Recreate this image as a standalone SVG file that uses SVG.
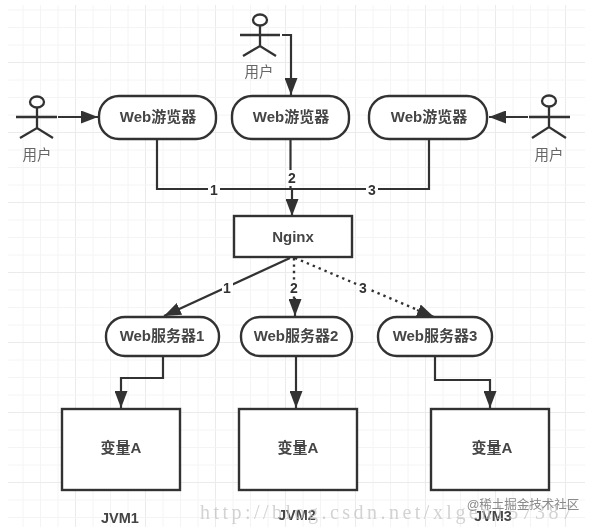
<svg xmlns="http://www.w3.org/2000/svg" width="595" height="527" viewBox="0 0 595 527">
<style>
text{font-family:"Liberation Sans","Noto Sans CJK SC",sans-serif;text-anchor:middle}
.g{stroke:#f4f4f4;stroke-width:1;fill:none}
.G{stroke:#ebebeb;stroke-width:1;fill:none}
.n{fill:#fff;stroke:#333;stroke-width:2.4}
.c{fill:none;stroke:#333;stroke-width:2.2}
.d{fill:none;stroke:#333;stroke-width:2.4;stroke-dasharray:2.4 4}
.a{fill:none;stroke:#333;stroke-width:2.3}
.t{font-size:15px;font-weight:bold;fill:#444}
.j{font-size:14.5px;font-weight:bold;fill:#444}
.u{font-size:14.5px;fill:#666}
.l{font-size:14px;font-weight:bold;fill:#333}
.bg{fill:#fff;stroke:none}
</style>
<defs>
<marker id="ah" markerUnits="userSpaceOnUse" markerWidth="18" markerHeight="13" refX="17" refY="6.5" orient="auto"><path d="M0,0L17,6.5L0,13Z" fill="#333"/></marker>
<filter id="b" x="0" y="0" width="100%" height="100%"><feGaussianBlur stdDeviation="0.45"/></filter>
</defs>
<rect width="595" height="527" fill="#fff"/>
<g filter="url(#b)">
<g id="grid">
<path class="g" d="M23 5V527M40.500 5V527M58 5V527M93 5V527M110.500 5V527M128 5V527M163 5V527M180.500 5V527M198 5V527M233 5V527M250.500 5V527M268 5V527M303 5V527M320.500 5V527M338 5V527M373 5V527M390.500 5V527M408 5V527M443 5V527M460.500 5V527M478 5V527M513 5V527M530.500 5V527M548 5V527"/>
<path class="G" d="M75.500 5V527M145.500 5V527M215.500 5V527M285.500 5V527M355.500 5V527M425.500 5V527M495.500 5V527M565.500 5V527"/>
<path class="g" d="M8 10H585M8 27.500H585M8 45H585M8 80H585M8 97.500H585M8 115H585M8 150H585M8 167.500H585M8 185H585M8 220H585M8 237.500H585M8 255H585M8 290H585M8 307.500H585M8 325H585M8 360H585M8 377.500H585M8 395H585M8 430H585M8 447.500H585M8 465H585M8 500H585M8 517.500H585"/>
<path class="G" d="M8 62.500H585M8 132.500H585M8 202.500H585M8 272.500H585M8 342.500H585M8 412.500H585M8 482.500H585"/>
</g>
<g id="connectors">
<path class="c" d="M58 117H98" marker-end="url(#ah)"/>
<path class="c" d="M282 35H291V95" marker-end="url(#ah)"/>
<path class="c" d="M528 117H489" marker-end="url(#ah)"/>
<path class="c" d="M157 139V189H292V216" marker-end="url(#ah)"/>
<path class="c" d="M290.500 139V189"/>
<path class="c" d="M429 139V189H292"/>
<path class="c" d="M290 258L164 316" marker-end="url(#ah)"/>
<path class="d" d="M294 258V300"/>
<path class="c" d="M295 298V316" marker-end="url(#ah)"/>
<path class="d" d="M295 258L420 311"/>
<path class="c" d="M417 310L434 317" marker-end="url(#ah)"/>
<path class="c" d="M163 356V378H121V408" marker-end="url(#ah)"/>
<path class="c" d="M296 356V408" marker-end="url(#ah)"/>
<path class="c" d="M435 356V380H490V408" marker-end="url(#ah)"/>
<rect class="bg" x="208" y="182" width="12" height="15"/>
<rect class="bg" x="286" y="170" width="13" height="16"/>
<rect class="bg" x="366" y="182" width="12" height="15"/>
<rect class="bg" x="222" y="280" width="11" height="15"/>
<rect class="bg" x="289" y="281" width="11" height="15"/>
<rect class="bg" x="358" y="280" width="11" height="15"/>
<text class="l" x="214" y="195">1</text>
<text class="l" x="292" y="183">2</text>
<text class="l" x="372" y="195">3</text>
<text class="l" x="227" y="293">1</text>
<text class="l" x="294" y="293">2</text>
<text class="l" x="363" y="293">3</text>
</g>
<g id="actor-left"><ellipse class="a" cx="37" cy="102" rx="7" ry="5.500"/><path class="a" d="M16 117H57M37 107.500V128M20 138L37 128L53 138"/><text class="u" x="37" y="160">用户</text></g>
<g id="actor-top"><ellipse class="a" cx="260" cy="20" rx="7" ry="5.500"/><path class="a" d="M240 35H280M260 25.500V46M243 56L260 46L276 56"/><text class="u" x="259" y="77">用户</text></g>
<g id="actor-right"><ellipse class="a" cx="549" cy="101" rx="7" ry="5.500"/><path class="a" d="M529 117H570M549 106.500V127M532 138L549 127L566 138"/><text class="u" x="549" y="160">用户</text></g>
<g id="browser1"><rect class="n" x="99" y="96" width="117" height="43" rx="20"/><text class="t" x="158" y="122">Web游览器</text></g>
<g id="browser2"><rect class="n" x="232" y="96" width="117" height="43" rx="20"/><text class="t" x="291" y="122">Web游览器</text></g>
<g id="browser3"><rect class="n" x="369" y="96" width="118" height="43" rx="20"/><text class="t" x="429" y="122">Web游览器</text></g>
<g id="nginx"><rect class="n" x="234" y="216" width="118" height="41"/><text class="t" x="293" y="242">Nginx</text></g>
<g id="server1"><rect class="n" x="106" y="317" width="113" height="39" rx="19"/><text class="t" x="162" y="341">Web服务器1</text></g>
<g id="server2"><rect class="n" x="241" y="317" width="111" height="39" rx="19"/><text class="t" x="296" y="341">Web服务器2</text></g>
<g id="server3"><rect class="n" x="378" y="317" width="114" height="39" rx="19"/><text class="t" x="435" y="341">Web服务器3</text></g>
<g id="jvm1"><rect class="n" x="62" y="409" width="118" height="81"/><text class="t" x="121" y="453">变量A</text></g>
<g id="jvm2"><rect class="n" x="239" y="409" width="118" height="81"/><text class="t" x="298" y="453">变量A</text></g>
<g id="jvm3"><rect class="n" x="431" y="409" width="118" height="81"/><text class="t" x="492" y="453">变量A</text></g>
<text class="j" x="120" y="523">JVM1</text>
<text class="j" x="297" y="520">JVM2</text>
<text class="j" x="493" y="521">JVM3</text>
<text x="200" y="519" textLength="372" lengthAdjust="spacing" style="font-family:'Liberation Serif',serif;font-size:20px;fill:#c4c4c4;text-anchor:start;opacity:.75">http://blog.csdn.net/xlgen157387</text>
<text x="523" y="509" style="font-size:12.5px;fill:#8a8a8a">@稀土掘金技术社区</text>
</g>
</svg>
